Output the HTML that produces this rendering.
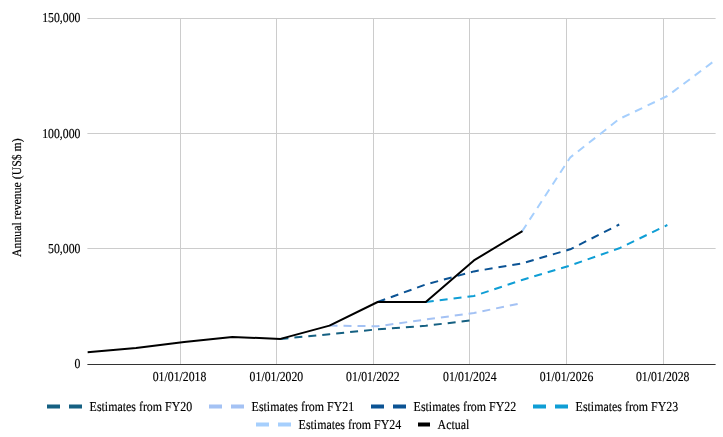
<!DOCTYPE html>
<html lang="en">
<head>
<meta charset="utf-8">
<title>Annual revenue: estimates vs actual</title>
<style>
html,body{margin:0;padding:0;background:#fff;}
body{width:723px;height:437px;overflow:hidden;}
svg{display:block;}
text{font-family:"Liberation Serif",serif;font-size:12px;fill:#000;stroke:#000;stroke-width:0.15px;text-rendering:geometricPrecision;}
.g{stroke:#cccccc;stroke-width:1;shape-rendering:crispEdges;}
.s{fill:none;stroke-width:2;stroke-linejoin:round;}
.d{stroke-dasharray:8 6;}
.lg{stroke-width:4;fill:none;}
</style>
</head>
<body>
<svg width="723" height="437" viewBox="0 0 723 437">
<rect x="0" y="0" width="723" height="437" fill="#ffffff"/>
<rect fill="#cccccc" x="87.4" y="18.0" width="628.2" height="1"/>
<rect fill="#cccccc" x="87.4" y="133.0" width="628.2" height="1"/>
<rect fill="#cccccc" x="87.4" y="248.0" width="628.2" height="1"/>
<line class="g" x1="180.5" y1="18.0" x2="180.5" y2="364.0"/>
<line class="g" x1="276.5" y1="18.0" x2="276.5" y2="364.0"/>
<line class="g" x1="373.5" y1="18.0" x2="373.5" y2="364.0"/>
<line class="g" x1="469.5" y1="18.0" x2="469.5" y2="364.0"/>
<line class="g" x1="566.5" y1="18.0" x2="566.5" y2="364.0"/>
<line class="g" x1="663.5" y1="18.0" x2="663.5" y2="364.0"/>
<rect fill="#333333" x="87.4" y="364" width="628.2" height="1"/>
<defs><clipPath id="plot"><rect x="87.4" y="17" width="628.2" height="349"/></clipPath></defs>
<g clip-path="url(#plot)">
<path class="s d" stroke="#156082" d="M280.44,338.90 L329.50,334.20 L377.64,329.30 L425.77,325.80 L473.91,320.00"/>
<path class="s d" stroke="#a4c2f4" d="M329.50,325.60 L377.64,326.30 L425.77,319.50 L473.91,313.00 L522.04,303.00"/>
<path class="s d" stroke="#0b5394" d="M377.64,302.00 L425.77,284.50 L473.91,271.40 L522.04,263.40 L570.18,249.30 L619.24,224.50"/>
<path class="s d" stroke="#0f9ed5" d="M425.77,302.00 L473.91,296.00 L522.04,280.00 L570.18,265.50 L619.24,248.30 L667.38,225.00"/>
<path class="s d" stroke="#a6cffd" d="M522.04,231.40 L570.18,157.50 L619.24,119.00 L667.38,96.00 L715.51,60.00"/>
<path class="s" stroke="#000000" d="M87.40,352.34 L136.04,348.10 L184.17,341.90 L232.31,336.90 L280.44,338.90 L329.50,325.60 L377.64,302.00 L425.77,302.00 L473.91,260.40 L522.47,231.14"/>
</g>
<text transform="translate(80.40,21.90) scale(0.9800,1.1400)" text-anchor="end">150,000</text>
<text transform="translate(80.40,137.80) scale(0.9800,1.1400)" text-anchor="end">100,000</text>
<text transform="translate(80.40,252.80) scale(0.9800,1.1400)" text-anchor="end">50,000</text>
<text transform="translate(80.40,367.90) scale(0.9800,1.1400)" text-anchor="end">0</text>
<text transform="translate(179.50,380.70) scale(0.9800,1.1400)" text-anchor="middle">01/01/2018</text>
<text transform="translate(276.40,380.70) scale(0.9800,1.1400)" text-anchor="middle">01/01/2020</text>
<text transform="translate(372.90,380.70) scale(0.9800,1.1400)" text-anchor="middle">01/01/2022</text>
<text transform="translate(469.80,380.70) scale(0.9800,1.1400)" text-anchor="middle">01/01/2024</text>
<text transform="translate(566.50,380.70) scale(0.9800,1.1400)" text-anchor="middle">01/01/2026</text>
<text transform="translate(662.70,380.70) scale(0.9800,1.1400)" text-anchor="middle">01/01/2028</text>
<text transform="translate(20.80,197.70) rotate(-90) scale(0.9800,1.0800)" text-anchor="middle">Annual revenue (US$ m)</text>
<path class="lg" stroke="#156082" d="M47.0,406.5 h13 m9,0 h13"/>
<text transform="translate(89.60,410.90) scale(0.9930,1.1400)">Estimates from FY20</text>
<path class="lg" stroke="#a4c2f4" d="M209.0,406.5 h13 m9,0 h13"/>
<text transform="translate(251.60,410.90) scale(0.9930,1.1400)">Estimates from FY21</text>
<path class="lg" stroke="#0b5394" d="M371.0,406.5 h13 m9,0 h13"/>
<text transform="translate(413.60,410.90) scale(0.9930,1.1400)">Estimates from FY22</text>
<path class="lg" stroke="#0f9ed5" d="M533.0,406.5 h13 m9,0 h13"/>
<text transform="translate(575.60,410.90) scale(0.9930,1.1400)">Estimates from FY23</text>
<path class="lg" stroke="#a6cffd" d="M256.0,424.5 h13 m9,0 h13"/>
<text transform="translate(298.60,428.90) scale(0.9930,1.1400)">Estimates from FY24</text>
<path class="lg" stroke="#000000" d="M418.0,424.5 h12"/>
<text transform="translate(437.60,428.90) scale(0.9930,1.1400)">Actual</text>
</svg>
</body>
</html>
